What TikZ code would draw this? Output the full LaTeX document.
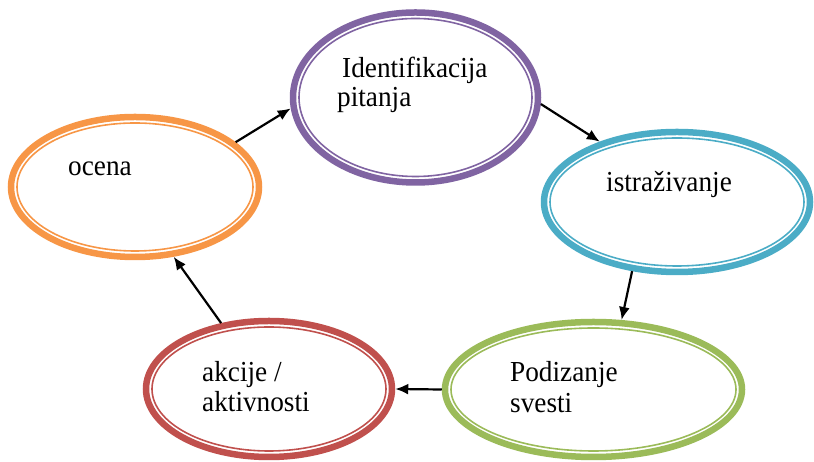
\documentclass[tikz,border=0pt]{standalone}
\usepackage{fontspec}
\setmainfont[FakeStretch=0.94]{Liberation Serif}
\usetikzlibrary{arrows.meta,shapes.geometric}
\definecolor{cpurple}{HTML}{8064A2}
\definecolor{cteal}{HTML}{4BACC6}
\definecolor{cgreen}{HTML}{9BBB59}
\definecolor{cred}{HTML}{C0504D}
\definecolor{corange}{HTML}{F79646}
\tikzset{
  ring/.style={ellipse, draw=#1, line width=6.5pt, inner sep=0pt},
  innerring/.style={draw=#1, line width=1.6pt},
  lbl/.style={anchor=base west, inner sep=0pt, font=\fontsize{29}{30}\selectfont},
  flow/.style={line width=2.2pt, -{Latex[length=13pt,width=11pt]}},
}
\begin{document}
\begin{tikzpicture}[x=1pt,y=1pt]
\useasboundingbox (0,0) rectangle (814,462);
% outer rings
\node[ring=cpurple, minimum width=245pt, minimum height=170pt] (P) at (415.5,364.5) {};
\node[ring=cteal,   minimum width=266pt, minimum height=140pt] (T) at (677,260) {};
\node[ring=cgreen,  minimum width=297pt, minimum height=135pt] (G) at (593.5,72.5) {};
\node[ring=cred,    minimum width=246pt, minimum height=136pt] (R) at (269,73) {};
\node[ring=corange, minimum width=248pt, minimum height=140pt] (O) at (135,275) {};
% inner rings
\draw[innerring=cpurple] (P.center) ellipse [x radius=116.5, y radius=79];
\draw[innerring=cteal]   (T.center) ellipse [x radius=127, y radius=64];
\draw[innerring=cgreen]  (G.center) ellipse [x radius=142.5, y radius=61.5];
\draw[innerring=cred]    (R.center) ellipse [x radius=117, y radius=62];
\draw[innerring=corange] (O.center) ellipse [x radius=118, y radius=64];
% labels
\node[lbl] (tP1) at (342,384) {Identifikacija};
\node[lbl] (tP2) at (337,355) {pitanja};
\node[lbl] (tT)  at (606,270) {istraživanje};
\node[lbl] (tG1) at (510,80) {Podizanje};
\node[lbl] (tG2) at (510,49) {svesti};
\node[lbl] (tR1) at (202,80) {akcije /};
\node[lbl] (tR2) at (202,50) {aktivnosti};
\node[lbl] (tO)  at (68,286) {ocena};
% cycle connectors
\draw[flow] (O.24.7) -- (P.185.4);
\draw[flow] (P.-3) -- (T.142.5);
\draw[flow] (T.237.5) -- (G.68.5);
\draw[flow] (G.180) -- (R.0);
\draw[flow] (R.126.5) -- (O.-61.5);
\end{tikzpicture}
\end{document}
